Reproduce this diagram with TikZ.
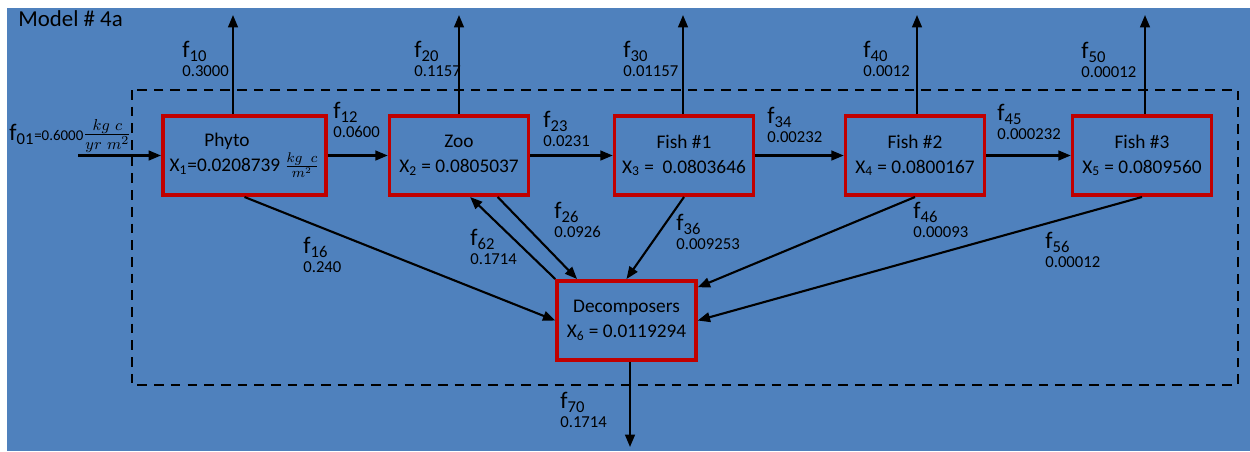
\documentclass[tikz,border=0pt]{standalone}
\usepackage{fontspec}
\setmainfont{Carlito}
\usetikzlibrary{arrows.meta}
\usepackage{xcolor}
\definecolor{bgblue}{HTML}{4F81BD}
\definecolor{boxred}{HTML}{C00000}
\newcommand{\flowlab}[2]{f\textsubscript{#1}\\[-4.5pt]{\fontsize{9.5}{11}\selectfont #2}}

\begin{document}
\begin{tikzpicture}[x=0.02cm,y=-0.02cm]
\tikzstyle{box} = [rectangle, draw=boxred, line width=2pt, minimum width=2.78cm,
minimum height=1.59cm, align=center, font=\fontsize{11}{14}\selectfont]
\tikzstyle{line} = [draw, line width=1.2pt, -{Triangle[length=7pt,width=5.5pt]}]
\tikzstyle{flow} = [anchor=north west, inner sep=0pt, align=left, font=\fontsize{13.5}{15}\selectfont]

\useasboundingbox (0,0) rectangle (1250,451);
\fill[bgblue] (7,8) rectangle (1250,451);
\node[anchor=west, inner sep=0pt, font=\fontsize{13}{15}\selectfont] (title) at (18,19) {Model \# 4a};

% system boundary
\draw[line width=1.1pt, dash pattern=on 5.5pt off 4pt] (132,90) rectangle (1238,385);

% compartments
\node[box, minimum width=3.27cm] (phyto) at (244.5,155.5) {Phyto\hspace*{20pt}\\X\textsubscript{1}=0.0208739 $\frac{kg\;\;c}{m^2}$};
\node[box] (zoo) at (459,155.5) {Zoo\\X\textsubscript{2} = 0.0805037};
\node[box] (fish1) at (684,155.5) {Fish \#1\\X\textsubscript{3} =\ \ 0.0803646};
\node[box] (fish2) at (915,155.5) {Fish \#2\\X\textsubscript{4} = 0.0800167};
\node[box] (fish3) at (1142,155.5) {Fish \#3\\X\textsubscript{5} = 0.0809560};
\node[box] (decomp) at (626.5,320.5) {Decomposers\\X\textsubscript{6} = 0.0119294};

% free ends
\coordinate (in0) at (78,155.5);
\coordinate (out1) at (233,15);
\coordinate (out2) at (459,15);
\coordinate (out3) at (683,15);
\coordinate (out4) at (917,15);
\coordinate (out5) at (1145,15);
\coordinate (out6) at (630,447);

% flows
\path[line] (in0) -- (phyto.west);
\path[line] (out1 |- phyto.north) -- (out1);
\path[line] (out2 |- zoo.north) -- (out2);
\path[line] (out3 |- fish1.north) -- (out3);
\path[line] (out4 |- fish2.north) -- (out4);
\path[line] (out5 |- fish3.north) -- (out5);
\path[line] (out6 |- decomp.south) -- (out6);
\path[line] (phyto.east) -- (zoo.west);
\path[line] (zoo.east) -- (fish1.west);
\path[line] (fish1.east) -- (fish2.west);
\path[line] (fish2.east) -- (fish3.west);
\path[line] (phyto.south) -- (decomp.west);
\path[line] (decomp.north west) -- (zoo.-75);
\path[line] (zoo.-47) -- (decomp.140);
\path[line] (fish1.south) -- (decomp.north);
\path[line] (fish2.south) -- (decomp.25);
\path[line] (fish3.south) -- (decomp.east);

% flow labels
\node[anchor=north west, inner sep=0pt, font=\fontsize{13.5}{15}\selectfont] (l01) at (9,119)
  {f\textsubscript{01}{\fontsize{8.5}{9}\selectfont=0.6000}$\frac{kg\ c}{yr\ m^2}$};
\node[flow] (l10) at (182,41) {\flowlab{10}{0.3000}};
\node[flow] (l20) at (414,41) {\flowlab{20}{0.1157}};
\node[flow] (l30) at (623,41) {\flowlab{30}{0.01157}};
\node[flow] (l40) at (863,41) {\flowlab{40}{0.0012}};
\node[flow] (l50) at (1081,42) {\flowlab{50}{0.00012}};
\node[flow] (l12) at (333,102) {\flowlab{12}{0.0600}};
\node[flow] (l23) at (543,111) {\flowlab{23}{0.0231}};
\node[flow] (l34) at (767,107) {\flowlab{34}{0.00232}};
\node[flow] (l45) at (997,104) {\flowlab{45}{0.000232}};
\node[flow] (l16) at (303,237) {\flowlab{16}{0.240}};
\node[flow] (l62) at (470,229) {\flowlab{62}{0.1714}};
\node[flow] (l26) at (554,202) {\flowlab{26}{0.0926}};
\node[flow] (l36) at (676,214) {\flowlab{36}{0.009253}};
\node[flow] (l46) at (913,202) {\flowlab{46}{0.00093}};
\node[flow] (l56) at (1045,232) {\flowlab{56}{0.00012}};
\node[flow] (l70) at (560,392) {\flowlab{70}{0.1714}};
\end{tikzpicture}
\end{document}
